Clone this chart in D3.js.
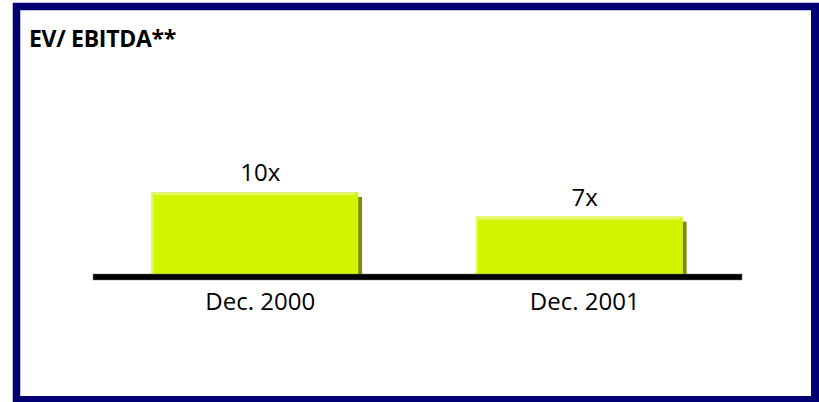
<!DOCTYPE html>
<html>
<head>
<meta charset="utf-8">
<script src="https://cdn.jsdelivr.net/npm/d3@7/dist/d3.min.js"></script>
<style>
  html, body { margin: 0; padding: 0; background: #fff; }
  svg { display: block; }
  text { font-family: "Open Sans", "Noto Sans", sans-serif; fill: #000; }
</style>
</head>
<body>
<svg id="chart" width="819" height="402"></svg>
<script>
// Data
const categories = ["Dec. 2000", "Dec. 2001"];
const multiples = [10, 7];
const valueLabels = ["10x", "7x"];
const title = "EV/ EBITDA**";

const W = 819, H = 402;
const svg = d3.select("#chart");

// Frame
svg.append("rect")
  .attr("x", 16.5).attr("y", 6.5)
  .attr("width", W - 16.5 + 20).attr("height", H - 6.5 + 20)
  .attr("fill", "#fff")
  .attr("stroke", "#000073")
  .attr("stroke-width", 7.5);
svg.append("rect")
  .attr("x", 811).attr("y", 6.5).attr("width", 8).attr("height", H)
  .attr("fill", "#000073");
svg.append("rect")
  .attr("x", 13).attr("y", 396).attr("width", W).attr("height", 6)
  .attr("fill", "#000073");

// Title
svg.append("text")
  .attr("x", 29).attr("y", 47)
  .attr("font-size", 23)
  .attr("font-weight", 700)
  .attr("letter-spacing", -0.3)
  .text(title);

// Scales
const baseY = 274;
const x = d3.scaleBand()
  .domain(categories)
  .range([93, 742])
  .paddingInner(0.36)
  .paddingOuter(0.18);
const y = d3.scaleLinear()
  .domain([0, 10])
  .range([baseY, 192]);

const data = categories.map((c, i) => ({ cat: c, v: multiples[i], label: valueLabels[i] }));
const g = svg.append("g");
const bw = x.bandwidth();

// Bar shadow (right side)
g.selectAll("rect.shadow").data(data).join("rect")
  .attr("class", "shadow")
  .attr("x", d => x(d.cat) + bw - 1)
  .attr("y", d => y(d.v) + 5)
  .attr("width", 4)
  .attr("height", d => baseY - y(d.v) - 5)
  .attr("fill", "#7f8d00");

// Bar face
g.selectAll("rect.bar").data(data).join("rect")
  .attr("class", "bar")
  .attr("x", d => x(d.cat))
  .attr("y", d => y(d.v))
  .attr("width", bw - 1)
  .attr("height", d => baseY - y(d.v))
  .attr("fill", "#d2f500");

// Top and left highlights
g.selectAll("rect.hiTop").data(data).join("rect")
  .attr("class", "hiTop")
  .attr("x", d => x(d.cat))
  .attr("y", d => y(d.v))
  .attr("width", bw - 4)
  .attr("height", 3)
  .attr("fill", "#e3f86a");
g.selectAll("rect.hiLeft").data(data).join("rect")
  .attr("class", "hiLeft")
  .attr("x", d => x(d.cat))
  .attr("y", d => y(d.v))
  .attr("width", 2)
  .attr("height", d => baseY - y(d.v))
  .attr("fill", "#e3f86a");

// Value labels
g.selectAll("text.val").data(data).join("text")
  .attr("class", "val")
  .attr("x", d => x(d.cat) + bw / 2 + 5)
  .attr("y", d => y(d.v) - 11)
  .attr("text-anchor", "middle")
  .attr("font-size", 24)
  .text(d => d.label);

// Baseline
svg.append("rect")
  .attr("x", 93).attr("y", baseY)
  .attr("width", 742 - 93).attr("height", 6)
  .attr("fill", "#000")
  .attr("stroke", "#777").attr("stroke-width", 0.5);

// Category labels
const xAxis = d3.axisBottom(x).tickSize(0).tickPadding(0);
const ax = svg.append("g")
  .attr("transform", `translate(5, ${baseY + 36})`)
  .call(xAxis);
ax.select(".domain").remove();
ax.selectAll("text")
  .attr("dy", 0)
  .attr("font-size", 24)
  .attr("font-family", "'Open Sans', 'Noto Sans', sans-serif")
  .attr("fill", "#000");
</script>
</body>
</html>
